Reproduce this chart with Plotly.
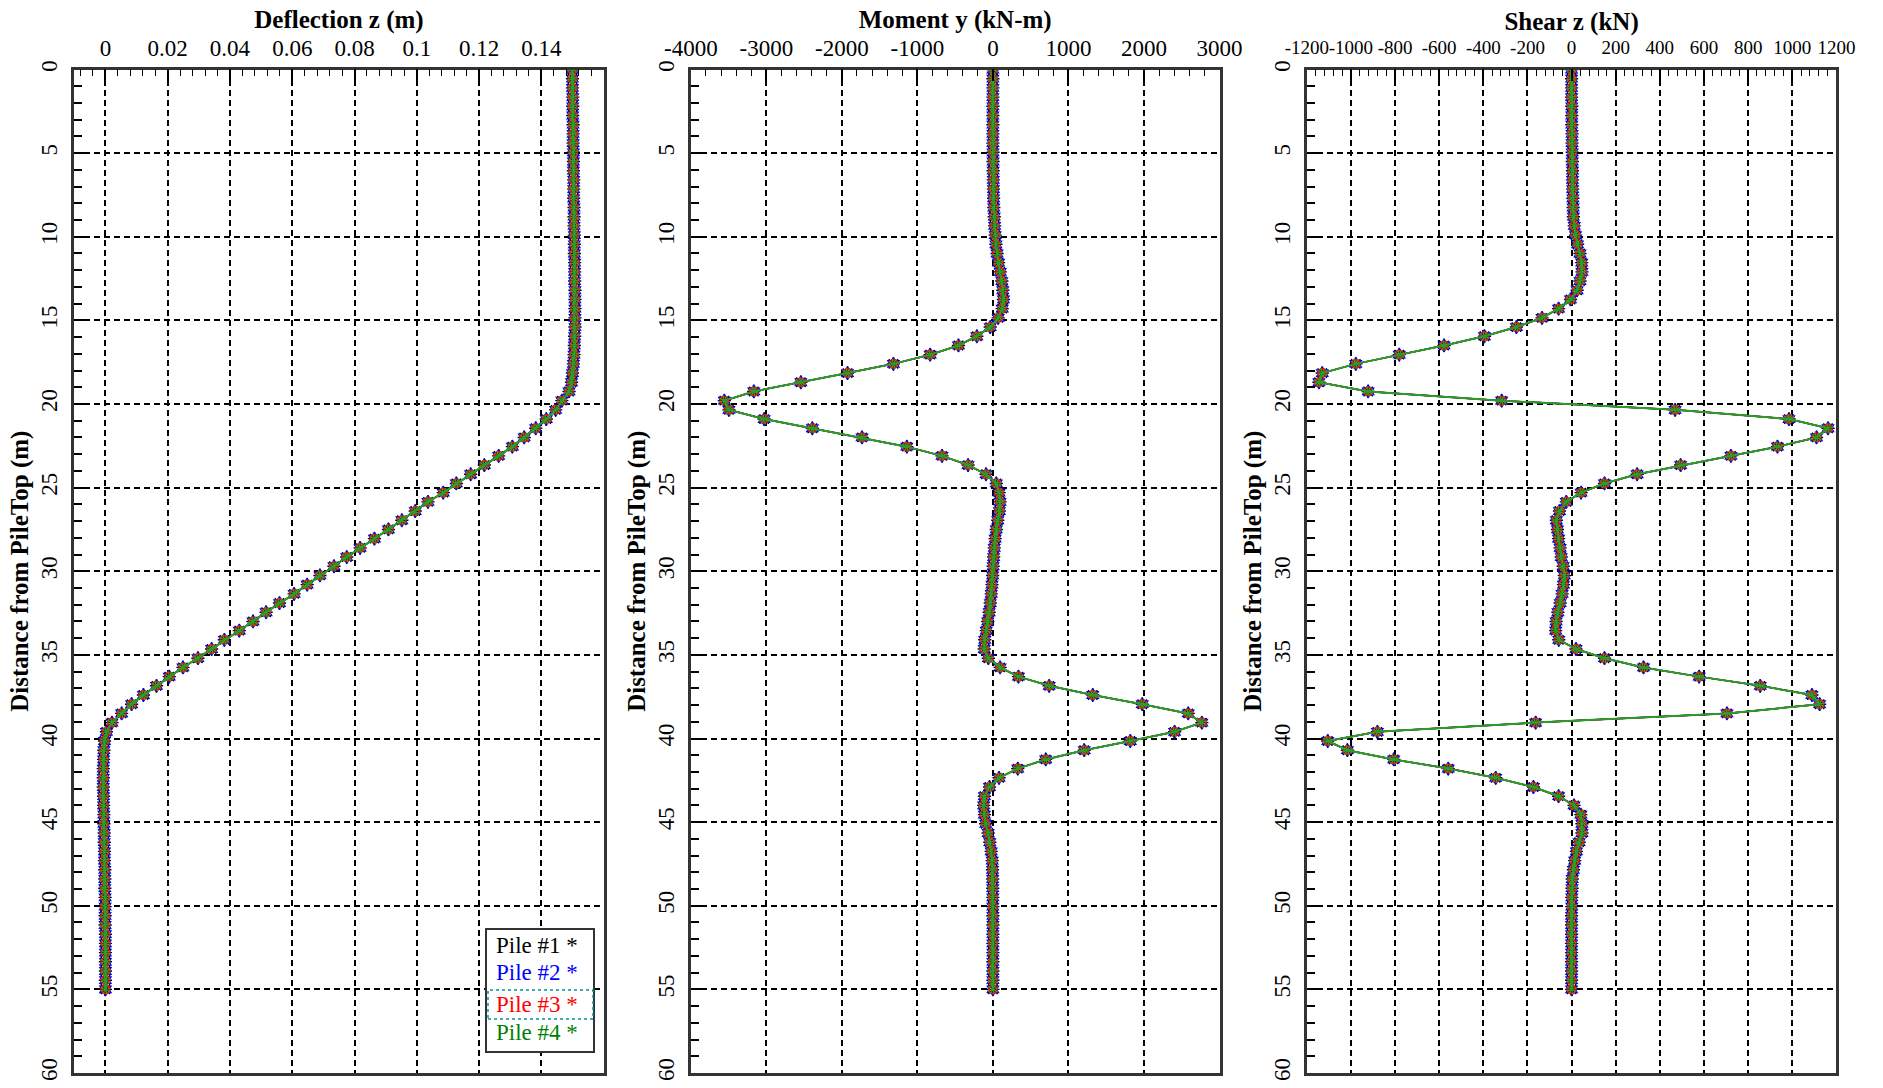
import plotly.graph_objects as go

FIG_W, FIG_H = 1883, 1088

# Depth below pile top (m) at each output node
depth_m = [
    0.0, 0.55, 1.1, 1.65, 2.2, 2.75, 3.3, 3.85, 4.4, 4.95,
    5.5, 6.05, 6.6, 7.15, 7.7, 8.25, 8.8, 9.35, 9.9, 10.45,
    11.0, 11.55, 12.1, 12.65, 13.2, 13.75, 14.3, 14.85, 15.4, 15.95,
    16.5, 17.05, 17.6, 18.15, 18.7, 19.25, 19.8, 20.35, 20.9, 21.45,
    22.0, 22.55, 23.1, 23.65, 24.2, 24.75, 25.3, 25.85, 26.4, 26.95,
    27.5, 28.05, 28.6, 29.15, 29.7, 30.25, 30.8, 31.35, 31.9, 32.45,
    33.0, 33.55, 34.1, 34.65, 35.2, 35.75, 36.3, 36.85, 37.4, 37.95,
    38.5, 39.05, 39.6, 40.15, 40.7, 41.25, 41.8, 42.35, 42.9, 43.45,
    44.0, 44.55, 45.1, 45.65, 46.2, 46.75, 47.3, 47.85, 48.4, 48.95,
    49.5, 50.05, 50.6, 51.15, 51.7, 52.25, 52.8, 53.35, 53.9, 54.45,
    55.0,
]

# Lateral deflection z (m)
deflection_m = [
    0.1500, 0.1500, 0.1500, 0.1501, 0.1501, 0.1501, 0.1502, 0.1502, 0.1502, 0.1503,
    0.1503, 0.1503, 0.1504, 0.1504, 0.1504, 0.1505, 0.1505, 0.1505, 0.1506, 0.1506,
    0.1506, 0.1507, 0.1507, 0.1507, 0.1508, 0.1508, 0.1508, 0.1508, 0.1508, 0.1507,
    0.1506, 0.1505, 0.1503, 0.1500, 0.1497, 0.1489, 0.1466, 0.1446, 0.1416, 0.1382,
    0.1345, 0.1307, 0.1263, 0.1217, 0.1173, 0.1127, 0.1085, 0.1036, 0.0995, 0.0952,
    0.0909, 0.0864, 0.0818, 0.0775, 0.0734, 0.0689, 0.0648, 0.0606, 0.0559, 0.0516,
    0.0474, 0.0430, 0.0382, 0.0341, 0.0297, 0.0249, 0.0205, 0.0164, 0.0122, 0.0084,
    0.0052, 0.0021, 0.0003, -0.0003, -0.0005, -0.0006, -0.0007, -0.0007, -0.0007, -0.0006,
    -0.0006, -0.0005, -0.0005, -0.0004, -0.0004, -0.0003, -0.0003, -0.0002, -0.0002, -0.0002,
    -0.0001, -0.0001, -0.0001, -0.0001, 0.0000, 0.0000, 0.0000, 0.0000, 0.0000, 0.0000,
    0.0000,
]

# Bending moment about y (kN-m)
moment_kNm = [
    0, 0, 0, 0, 0, 0, 0, 0, 0, 1,
    2, 3, 5, 7, 9, 12, 17, 23, 30, 40,
    55, 75, 97, 118, 131, 139, 123, 70, -36, -213,
    -456, -831, -1317, -1925, -2543, -3166, -3556, -3495, -3029, -2391,
    -1733, -1140, -674, -329, -91, 45, 82, 95, 85, 65,
    45, 30, 18, 10, 3, -3, -12, -22, -35, -50,
    -68, -88, -108, -115, -60, 95, 338, 745, 1322, 1977,
    2586, 2766, 2405, 1819, 1209, 699, 329, 81, -45, -113,
    -122, -113, -95, -63, -41, -23, -9, -5, -3, -2,
    -1, -1, 0, 0, 0, 0, 0, 0, 0, 0,
    0,
]

# Shear force z (kN)
shear_kN = [
    0, 0, 0, 0, 1, 1, 1, 2, 2, 3,
    3, 4, 4, 5, 6, 7, 8, 12, 18, 27,
    38, 46, 47, 38, 25, -5, -59, -134, -250, -395,
    -578, -781, -978, -1130, -1145, -922, -317, 469, 985, 1162,
    1110, 933, 722, 494, 297, 149, 43, -24, -55, -69,
    -64, -59, -52, -47, -38, -33, -37, -43, -52, -62,
    -70, -72, -58, 20, 149, 326, 578, 855, 1089, 1124,
    704, -163, -880, -1105, -1016, -806, -559, -344, -173, -59,
    11, 42, 47, 47, 34, 22, 14, 8, 3, 2,
    1, 1, 0, 0, 0, 0, 0, 0, 0, 0,
    0,
]

pile_names = ["Pile #1", "Pile #2", "Pile #3", "Pile #4"]
pile_colors = ["#000000", "#0000ff", "#ff0000", "#008000"]

depth_ticks = [0, 5, 10, 15, 20, 25, 30, 35, 40, 45, 50, 55, 60]
deflection_ticks = [0, 0.02, 0.04, 0.06, 0.08, 0.1, 0.12, 0.14]
deflection_ticktext = ["0", "0.02", "0.04", "0.06", "0.08", "0.1", "0.12", "0.14"]
moment_ticks = [-4000, -3000, -2000, -1000, 0, 1000, 2000, 3000]
shear_ticks = [-1200, -1000, -800, -600, -400, -200, 0, 200, 400, 600, 800, 1000, 1200]

# All four piles give the same response, so they share the result arrays
pile_results = {name: (deflection_m, moment_kNm, shear_kN) for name in pile_names}

FONT = "Liberation Serif"

# marker / line style of each pile; drawn in order so pile #4's green line ends on top
pile_markers = [
    dict(symbol="asterisk-open", size=11, line=dict(width=1.4, color="#000000")),
    dict(symbol="hexagram-open", size=10, line=dict(width=1.2, color="#0000ff")),
    dict(symbol="circle-open", size=8, line=dict(width=2, color="#ff2000")),
    dict(symbol="asterisk-open", size=9, angle=30, line=dict(width=1.2, color="#008000")),
]
pile_lines = [
    dict(color="#000000", width=1.5),
    dict(color="#0000ff", width=1.5),
    dict(color="#ff0000", width=1.5),
    dict(color="rgb(40,160,40)", width=2),
]

axis_pairs = [("x", "y"), ("x2", "y2"), ("x3", "y3")]

fig = go.Figure()
for p, name in enumerate(pile_names):
    for (xa, ya), values in zip(axis_pairs, pile_results[name]):
        fig.add_trace(go.Scatter(
            x=values, y=depth_m, xaxis=xa, yaxis=ya,
            mode="lines+markers", name=name, showlegend=False,
            line=pile_lines[p], marker=pile_markers[p],
        ))

# plot-area boxes in pixels
x_domains_px = [(74.3, 603.6), (690.8, 1219.5), (1306.8, 1836.4)]
y_top_px, y_bot_px = 69.5, 1073.0
y_domain = [1 - y_bot_px / FIG_H, 1 - y_top_px / FIG_H]

x_specs = [
    dict(range=[-0.01, 0.16], tickvals=deflection_ticks, ticktext=deflection_ticktext,
         minor_dtick=0.004, title="Deflection z (m)", ticksize=23, standoff=2, title_gap=0),
    dict(range=[-4000, 3000], tickvals=moment_ticks, ticktext=[str(v) for v in moment_ticks],
         minor_dtick=200, title="Moment y (kN-m)", ticksize=23, standoff=2, title_gap=0),
    dict(range=[-1200, 1200], tickvals=shear_ticks, ticktext=[str(v) for v in shear_ticks],
         minor_dtick=40, title="Shear z (kN)", ticksize=19, standoff=5, title_gap=0),
]

GRID_DASH = "6px,4px"
layout_axes = {}
for k, spec in enumerate(x_specs):
    xname = "xaxis" if k == 0 else f"xaxis{k + 1}"
    yname = "yaxis" if k == 0 else f"yaxis{k + 1}"
    xa, ya = axis_pairs[k]
    x0, x1 = x_domains_px[k]
    layout_axes[xname] = dict(
        domain=[x0 / FIG_W, x1 / FIG_W], anchor=ya, side="top",
        range=spec["range"], tickmode="array", tickvals=spec["tickvals"],
        ticktext=spec["ticktext"], tickangle=0,
        tickfont=dict(family=FONT, size=spec["ticksize"], color="black"),
        ticks="inside", ticklen=12, tickwidth=1.5, tickcolor="black",
        minor=dict(tickmode="linear", tick0=0, dtick=spec["minor_dtick"],
                   ticks="inside", ticklen=7, tickwidth=1.2, tickcolor="black", showgrid=False),
        showgrid=True, gridcolor="black", gridwidth=1.5, griddash=GRID_DASH,
        showline=True, linecolor="#333333", linewidth=2.5, mirror=True,
        zeroline=False, automargin=False, fixedrange=True,
        ticklabelstandoff=spec["standoff"],
        title=dict(text=f"<b>{spec['title']}</b>", font=dict(family=FONT, size=25, color="black"),
                   standoff=spec["title_gap"]),
    )
    layout_axes[yname] = dict(
        domain=y_domain, anchor=xa, range=[60, 0],
        tickmode="array", tickvals=depth_ticks, ticktext=[str(v) for v in depth_ticks],
        tickangle=-90, tickfont=dict(family=FONT, size=23, color="black"),
        ticks="inside", ticklen=12, tickwidth=1.5, tickcolor="black",
        minor=dict(tickmode="linear", tick0=0, dtick=1, ticks="inside", ticklen=8,
                   tickwidth=1.5, tickcolor="black", showgrid=False),
        showgrid=True, gridcolor="black", gridwidth=1.5, griddash=GRID_DASH,
        showline=True, linecolor="#333333", linewidth=2.5, mirror=True,
        zeroline=False, automargin=False, fixedrange=True,
        ticklabelstandoff=5,
        title=dict(text="<b>Distance from PileTop (m)</b>",
                   font=dict(family=FONT, size=25, color="black"), standoff=2),
    )


def px_x(v):
    return v / FIG_W


def px_y(v):
    return 1 - v / FIG_H


# legend box drawn over the deflection panel
legend_box = (486, 929, 594, 1052)
legend_rows_y = [945, 972, 1004, 1032]
shapes = [
    dict(type="rect", xref="paper", yref="paper",
         x0=px_x(legend_box[0]), x1=px_x(legend_box[2]),
         y0=px_y(legend_box[3]), y1=px_y(legend_box[1]),
         line=dict(color="#333333", width=2), fillcolor="white", layer="above"),
    dict(type="rect", xref="paper", yref="paper",
         x0=px_x(488), x1=px_x(593), y0=px_y(1019), y1=px_y(990),
         line=dict(color="rgb(0,150,150)", width=1.5, dash="dot"), fillcolor="rgba(0,0,0,0)",
         layer="above"),
]
annotations = []
for name, color, ry in zip(pile_names, pile_colors, legend_rows_y):
    annotations.append(dict(
        text=f"{name} *", xref="paper", yref="paper", x=px_x(494), y=px_y(ry),
        xanchor="left", yanchor="middle", showarrow=False,
        font=dict(family=FONT, size=23, color=color),
    ))

fig.update_layout(
    width=FIG_W, height=FIG_H, margin=dict(l=0, r=0, t=0, b=0),
    paper_bgcolor="white", plot_bgcolor="white", showlegend=False,
    font=dict(family=FONT, color="black", size=23),
    shapes=shapes, annotations=annotations,
    **layout_axes,
)

fig.write_html("out.html")
